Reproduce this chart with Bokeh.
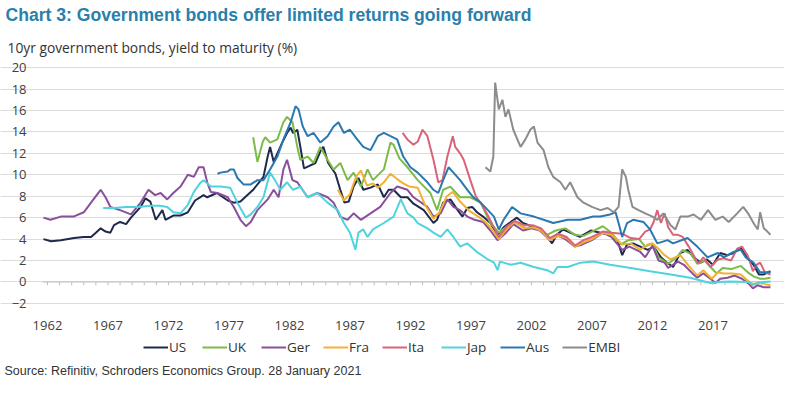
from bokeh.plotting import figure
from bokeh.models import Range1d, FixedTicker, Legend, LegendItem, Label
from bokeh.embed import file_html
from bokeh.resources import INLINE

# ---------------- data (years, yield %) ----------------
us_x = [1961.67, 1962.3, 1963.1, 1964.2, 1965.0, 1965.6, 1966.0, 1966.4, 1966.8, 1967.2, 1967.5, 1968.0,
        1968.5, 1968.9, 1969.7, 1970.1, 1970.5, 1970.95, 1971.5, 1971.75, 1972.4, 1973.0, 1973.6, 1974.2,
        1974.9, 1975.2, 1976.0, 1976.9, 1977.4, 1977.95, 1979.0, 1979.85, 1980.2, 1980.4, 1980.7, 1981.0,
        1981.4, 1981.8, 1982.1, 1982.3, 1982.65, 1982.9, 1983.2, 1983.6, 1984.15, 1984.6, 1984.8, 1985.2,
        1985.8, 1986.2, 1986.55, 1986.9, 1987.3, 1987.7, 1988.1, 1988.7, 1989.3, 1989.8, 1990.2, 1990.6,
        1991.2, 1991.75, 1992.25, 1993.1, 1993.9, 1994.2, 1994.7, 1995.3, 1995.9, 1996.3, 1996.7, 1997.1,
        1997.5, 1998.0, 1998.6, 1999.2, 1999.7, 2000.3, 2000.8, 2001.3, 2002.2, 2002.7, 2003.3, 2003.7,
        2004.1, 2004.6, 2005.2, 2006.0, 2006.9, 2007.7, 2008.5, 2009.1, 2009.5, 2009.9, 2010.4, 2011.0,
        2011.6, 2012.1, 2012.7, 2013.2, 2013.7, 2014.3, 2014.9, 2015.4, 2016.0, 2016.5, 2017.0, 2017.6,
        2018.2, 2018.7, 2019.3, 2019.8, 2020.35, 2020.8, 2021.2, 2021.75]
us_y = [4.0, 3.8, 3.9, 4.1, 4.2, 4.2, 4.6, 5.0, 4.7, 4.6, 5.3, 5.6,
        5.4, 6.0, 7.0, 7.8, 7.5, 5.8, 6.7, 5.8, 6.2, 6.2, 6.5, 7.6,
        8.1, 7.9, 8.3, 7.6, 7.4, 7.5, 8.6, 9.8, 11.7, 12.6, 11.2, 12.0,
        13.0, 13.9, 14.4, 13.9, 14.2, 12.6, 10.6, 10.8, 11.1, 12.3, 12.6, 11.1,
        10.1, 8.6, 7.4, 7.5, 8.9, 9.7, 8.6, 8.8, 9.1, 7.9, 8.6, 8.6,
        7.9, 7.9, 7.3, 6.7, 5.5, 5.8, 7.4, 7.7, 6.7, 6.1, 6.9, 7.0,
        6.5, 6.1, 5.5, 4.4, 5.1, 5.6, 6.0, 5.5, 5.1, 5.0, 4.2, 3.6,
        4.4, 4.9, 4.6, 4.2, 4.8, 4.6, 4.4, 3.9, 2.5, 3.5, 3.6, 3.3,
        3.0, 3.3, 2.3, 1.8, 1.4, 2.7, 3.0, 2.3, 1.8, 2.1, 1.6, 2.7,
        2.5, 2.7, 3.2, 2.3, 1.6, 0.7, 0.7, 1.0]

uk_x = [1979.0, 1979.35, 1979.8, 1980.0, 1980.4, 1981.0, 1981.5, 1981.8, 1982.25, 1982.65, 1982.9, 1983.5,
        1984.0, 1984.55, 1985.15, 1985.65, 1986.2, 1986.8, 1987.3, 1987.9, 1988.45, 1988.9, 1989.8, 1990.35,
        1990.6, 1991.1, 1991.75, 1992.6, 1993.65, 1994.2, 1994.7, 1995.3, 1996.1, 1996.95, 1997.8, 1998.6,
        1999.3, 2000.0, 2000.6, 2001.5, 2002.3, 2003.3, 2004.0, 2004.8, 2005.6, 2006.3, 2007.0, 2007.9,
        2008.6, 2009.4, 2010.0, 2010.9, 2011.4, 2012.0, 2012.5, 2013.3, 2014.0, 2014.5, 2015.2, 2015.7,
        2016.3, 2016.8, 2017.3, 2017.8, 2018.5, 2019.3, 2020.0, 2020.4, 2020.9, 2021.3, 2021.75]
uk_y = [13.5, 11.2, 13.1, 13.5, 13.0, 13.3, 14.9, 15.4, 14.9, 12.6, 11.4, 11.7,
        11.1, 12.6, 11.4, 10.5, 11.1, 9.5, 10.2, 8.9, 10.5, 9.5, 10.5, 13.0,
        12.8, 11.5, 10.7, 9.5, 8.3, 6.7, 8.6, 8.9, 7.9, 7.9, 7.4, 5.5,
        4.6, 5.2, 5.6, 5.0, 5.1, 4.4, 4.8, 5.0, 4.4, 4.3, 4.7, 5.2,
        4.6, 3.5, 3.9, 4.0, 3.3, 3.6, 2.3, 1.7, 2.3, 3.0, 2.6, 1.7,
        2.0, 1.4, 0.8, 1.3, 1.2, 1.5, 0.8, 0.5, 0.3, 0.3, 0.4]

ger_x = [1961.67, 1962.25, 1963.1, 1964.15, 1965.0, 1965.8, 1966.4, 1966.8, 1967.2, 1968.0, 1968.9, 1969.7,
         1970.35, 1970.9, 1971.35, 1971.9, 1972.4, 1973.0, 1973.6, 1974.1, 1974.5, 1974.9, 1975.2, 1975.5,
         1976.05, 1976.9, 1977.4, 1977.95, 1978.4, 1978.8, 1979.35, 1980.2, 1980.7, 1981.1, 1981.5, 1981.8,
         1982.25, 1982.65, 1983.5, 1984.3, 1985.15, 1985.65, 1986.2, 1986.8, 1987.3, 1987.9, 1988.7, 1989.5,
         1990.35, 1990.9, 1991.75, 1992.25, 1993.4, 1993.9, 1994.5, 1995.05, 1995.55, 1996.1, 1996.7, 1997.3,
         1998.0, 1998.6, 1999.2, 1999.9, 2000.5, 2001.3, 2002.0, 2002.7, 2003.5, 2004.2, 2004.8, 2005.6,
         2006.2, 2007.0, 2007.9, 2008.6, 2009.5, 2010.1, 2011.0, 2011.4, 2012.0, 2012.5, 2013.0, 2013.3,
         2014.1, 2014.6, 2015.3, 2015.7, 2016.2, 2016.9, 2017.2, 2017.6, 2018.2, 2018.8, 2019.4, 2020.0,
         2020.3, 2020.7, 2021.2, 2021.75]
ger_y = [6.0, 5.8, 6.1, 6.1, 6.5, 7.7, 8.6, 7.9, 7.0, 6.7, 6.3, 7.4,
         8.6, 8.1, 8.3, 7.7, 8.3, 8.9, 10.0, 9.8, 10.7, 10.7, 9.3, 8.4,
         8.3, 7.9, 7.0, 5.8, 5.2, 5.6, 6.7, 7.7, 8.6, 7.9, 10.5, 11.4,
         9.5, 9.3, 7.9, 8.3, 7.9, 7.4, 6.1, 5.8, 6.4, 5.8, 6.4, 7.0,
         8.3, 8.9, 8.6, 7.9, 7.0, 6.1, 6.4, 7.7, 7.0, 6.7, 6.1, 5.8,
         5.6, 4.8, 3.9, 4.6, 5.4, 4.8, 5.0, 4.8, 3.9, 4.3, 4.0, 3.3,
         3.5, 3.9, 4.6, 4.2, 3.0, 3.3, 2.8, 2.3, 3.4, 2.0, 1.8, 1.3,
         1.9, 1.6, 0.8, 0.4, 0.8, 0.2, -0.1, 0.3, 0.4, 0.6, 0.3, -0.2,
         -0.6, -0.3, -0.5, -0.5]

fra_x = [1986.0, 1986.5, 1987.0, 1987.5, 1987.9, 1988.4, 1988.9, 1989.3, 1989.8, 1990.35, 1990.9, 1991.4,
         1991.9, 1992.6, 1993.2, 1993.9, 1994.4, 1995.0, 1995.5, 1996.1, 1996.9, 1997.6, 1998.2, 1998.8,
         1999.3, 2000.0, 2000.6, 2001.4, 2002.1, 2002.8, 2003.5, 2004.2, 2004.9, 2005.6, 2006.3, 2007.0,
         2007.9, 2008.6, 2009.5, 2010.2, 2011.0, 2011.6, 2012.0, 2012.5, 2012.9, 2013.5, 2014.3, 2015.0,
         2015.7, 2016.2, 2016.9, 2017.4, 2017.9, 2018.6, 2019.3, 2020.0, 2020.3, 2020.8, 2021.3, 2021.75]
fra_y = [8.6, 7.6, 8.2, 9.8, 10.4, 9.0, 9.2, 8.8, 9.3, 10.1, 9.6, 9.2,
         8.9, 8.8, 7.2, 5.9, 6.5, 8.0, 8.4, 7.5, 6.6, 6.1, 5.6, 4.8,
         4.0, 5.0, 5.6, 5.0, 5.1, 4.8, 3.9, 4.3, 4.1, 3.3, 3.7, 4.0,
         4.6, 4.4, 3.5, 3.6, 3.0, 3.5, 3.6, 3.1, 2.6, 2.1, 2.5, 1.5,
         0.6, 1.1, 0.3, 0.9, 0.8, 0.8, 0.7, 0.0, -0.3, 0.0, -0.2, -0.3]

ita_x = [1991.35, 1991.75, 1992.25, 1992.6, 1993.0, 1993.4, 1993.9, 1994.3, 1994.65, 1995.05, 1995.5, 1995.7,
         1996.1, 1996.4, 1996.95, 1997.4, 1997.9, 1998.4, 1998.8, 1999.3, 2000.0, 2000.6, 2001.4, 2002.1,
         2002.8, 2003.5, 2004.2, 2004.9, 2005.6, 2006.3, 2007.0, 2007.9, 2008.6, 2009.5, 2010.2, 2010.9,
         2011.4, 2011.8, 2012.1, 2012.4, 2012.7, 2013.0, 2013.3, 2013.7, 2014.1, 2014.5, 2015.0, 2015.4,
         2015.8, 2016.2, 2016.8, 2017.4, 2017.9, 2018.5, 2019.0, 2019.4, 2019.9, 2020.3, 2020.6, 2020.9,
         2021.3, 2021.75]
ita_y = [13.9, 13.3, 12.8, 13.1, 14.2, 13.6, 11.4, 9.3, 9.5, 11.7, 13.6, 12.6,
         12.0, 11.4, 9.5, 8.0, 7.2, 6.2, 5.3, 4.2, 5.2, 5.7, 5.3, 5.3,
         5.0, 4.1, 4.5, 4.2, 3.4, 3.9, 4.2, 4.7, 4.6, 4.5, 4.1, 4.0,
         4.7, 4.9, 5.6, 6.7, 5.5, 6.4, 5.1, 4.4, 4.4, 4.2, 3.3, 2.5,
         1.7, 2.3, 1.4, 2.1, 2.2, 2.0, 3.1, 3.3, 2.4, 1.0, 1.6, 1.8,
         0.9, 0.7]

jap_x = [1966.6, 1967.5, 1968.5, 1969.5, 1970.5, 1971.3, 1971.9, 1972.4, 1973.0, 1973.6, 1974.1, 1974.6,
         1974.9, 1975.5, 1976.3, 1977.1, 1977.7, 1978.4, 1978.8, 1979.35, 1979.85, 1980.4, 1980.8, 1981.25,
         1981.8, 1982.3, 1982.9, 1983.5, 1984.3, 1985.15, 1986.0, 1986.5, 1987.0, 1987.45, 1987.7, 1988.1,
         1988.45, 1988.9, 1989.8, 1990.6, 1991.2, 1991.75, 1992.25, 1992.6, 1993.4, 1993.9, 1994.5, 1995.05,
         1995.55, 1996.1, 1996.7, 1997.5, 1998.4, 1998.9, 1999.2, 1999.4, 2000.3, 2001.1, 2002.2, 2003.3,
         2003.8, 2004.15, 2005.0, 2006.05, 2007.1, 2008.5, 2010.2, 2011.8, 2013.5, 2015.1, 2016.8, 2017.4,
         2018.45, 2019.85, 2020.35, 2021.2, 2021.75]
jap_y = [6.9, 6.9, 7.0, 7.0, 7.1, 7.1, 7.0, 6.5, 6.4, 7.2, 8.4, 9.2,
         9.5, 8.9, 8.9, 8.8, 7.4, 6.0, 6.3, 7.0, 7.9, 10.2, 9.5, 8.6,
         9.3, 8.6, 8.9, 7.9, 8.3, 7.4, 6.7, 5.5, 4.6, 3.0, 4.6, 4.9,
         4.2, 4.9, 5.5, 6.1, 7.7, 6.4, 6.0, 5.5, 5.0, 4.6, 4.2, 4.9,
         4.2, 3.3, 3.6, 2.8, 2.1, 1.8, 1.1, 1.9, 1.6, 1.8, 1.4, 1.1,
         0.8, 1.4, 1.4, 1.8, 1.9, 1.6, 1.3, 1.0, 0.7, 0.4, -0.1, 0.0,
         0.05, 0.0, -0.2, 0.0, 0.05]

aus_x = [1976.05, 1976.3, 1976.9, 1977.1, 1977.4, 1977.7, 1978.2, 1978.8, 1979.35, 1979.85, 1980.4, 1981.0,
         1981.5, 1982.1, 1982.5, 1982.75, 1983.1, 1983.5, 1984.0, 1984.55, 1985.15, 1985.65, 1986.05, 1986.5,
         1987.0, 1987.6, 1988.1, 1988.7, 1989.3, 1989.8, 1990.35, 1990.9, 1991.4, 1992.0, 1992.6, 1993.4,
         1993.9, 1994.3, 1994.7, 1995.15, 1995.55, 1996.1, 1996.7, 1997.2, 1997.8, 1998.4, 1998.9, 1999.3,
         1999.7, 2000.4, 2001.1, 2002.2, 2003.0, 2003.8, 2005.0, 2006.05, 2007.1, 2007.7, 2008.5, 2008.95,
         2009.2, 2009.5, 2009.9, 2010.4, 2011.25, 2011.8, 2012.4, 2013.25, 2013.7, 2014.9, 2015.7, 2016.55,
         2017.4, 2017.9, 2018.7, 2019.3, 2019.7, 2020.35, 2020.9, 2021.75]
aus_y = [10.1, 10.2, 10.3, 10.5, 10.5, 9.7, 9.1, 9.1, 9.5, 9.5, 10.5, 11.7,
         13.3, 14.9, 16.4, 16.1, 14.5, 13.6, 13.9, 13.0, 13.6, 14.5, 14.9, 13.9,
         14.2, 13.3, 12.6, 12.3, 13.6, 13.9, 13.6, 13.3, 11.7, 10.7, 10.2, 9.3,
         8.6, 8.3, 9.5, 10.7, 10.2, 9.5, 8.6, 7.9, 7.4, 6.7, 6.1, 4.9,
         5.8, 7.0, 6.4, 6.1, 5.8, 5.5, 5.8, 5.8, 6.1, 6.1, 6.3, 6.5,
         5.5, 4.2, 5.5, 5.8, 5.6, 4.9, 3.6, 3.9, 3.6, 4.1, 3.3, 2.3,
         2.7, 2.3, 2.8, 3.0, 2.3, 1.8, 0.9, 0.9]

embi_x = [1998.2, 1998.6, 1998.85, 1999.0, 1999.3, 1999.6, 1999.85, 2000.1, 2000.5, 2001.1, 2001.5, 2001.9,
          2002.2, 2002.5, 2003.0, 2003.4, 2003.8, 2004.4, 2004.8, 2005.2, 2005.8, 2006.3, 2007.0, 2007.7,
          2008.3, 2008.8, 2009.2, 2009.5, 2009.8, 2010.0, 2010.35, 2010.85, 2011.4, 2012.0, 2012.4, 2012.9,
          2013.5, 2013.9, 2014.3, 2014.9, 2015.4, 2016.0, 2016.6, 2017.2, 2017.8, 2018.3, 2019.0, 2019.5,
          2019.9, 2020.35, 2020.7, 2020.9, 2021.2, 2021.5, 2021.75]
embi_y = [10.7, 10.3, 11.7, 18.6, 16.1, 17.0, 15.4, 16.1, 14.2, 12.6, 13.3, 14.2,
          14.5, 13.0, 12.3, 10.7, 9.8, 9.3, 8.6, 9.3, 7.9, 7.4, 7.0, 6.7,
          6.9, 6.5, 7.0, 10.5, 9.8, 8.6, 7.0, 6.7, 6.4, 6.1, 5.8, 6.4,
          5.3, 4.9, 6.1, 6.1, 6.3, 5.8, 6.7, 5.8, 6.1, 5.6, 6.4, 7.0,
          6.4, 5.5, 4.9, 6.5, 5.0, 4.7, 4.4]

series_names = ["US", "UK", "Ger", "Fra", "Ita", "Jap", "Aus", "EMBI"]
series_colors = ["#1d2a4d", "#7cbb48", "#8a4f9c", "#f2b134", "#d9637a", "#4fd3dc", "#2a78b0", "#8c8c8c"]
y_ticks = [-2, 0, 2, 4, 6, 8, 10, 12, 14, 16, 18, 20]
x_ticks = [1962, 1967, 1972, 1977, 1982, 1987, 1992, 1997, 2002, 2007, 2012, 2017]
minor_years = list(range(1962, 2022))

# ---------------- layout constants (pixels -> data) ----------------
W, H = 784, 378
PX_YEAR = 12.1          # pixels per year
PX_UNIT = 10.72         # pixels per percentage point
X0 = 1961.59            # left edge of the plotting area (page x = 42)
X1 = 2021.75            # right edge of the plotting area (page x = 770)
Y_TOP = 20.1            # top of the plotting area (page y = 66)
x_start = X0 - 42 / PX_YEAR
y_top = Y_TOP + 66 / PX_UNIT


def ypix(py):
    return y_top - py / PX_UNIT


def xpix(px):
    return x_start + px / PX_YEAR


p = figure(width=W, height=H, x_range=Range1d(x_start, x_start + W / PX_YEAR),
           y_range=Range1d(y_top - H / PX_UNIT, y_top),
           output_backend="svg", toolbar_location=None, title=None,
           min_border_left=0, min_border_right=0, min_border_top=0, min_border_bottom=0)
p.outline_line_color = None
p.background_fill_color = "white"
p.border_fill_color = "white"

p.xgrid.visible = False
p.ygrid.ticker = FixedTicker(ticks=y_ticks)
p.ygrid.bounds = (X0, X1)
p.ygrid.grid_line_color = "#dcdcdc"
p.ygrid.grid_line_width = 1

ax = p.yaxis[0]
ax.fixed_location = X0
ax.ticker = FixedTicker(ticks=y_ticks)
ax.axis_line_color = None
ax.major_tick_line_color = None
ax.minor_tick_line_color = None
ax.major_label_standoff = 10
ax.major_label_text_font = "Open Sans"
ax.major_label_text_font_size = "13px"
ax.major_label_text_color = "#404040"

bx = p.xaxis[0]
bx.fixed_location = -2.1
bx.ticker = FixedTicker(ticks=x_ticks)
bx.axis_line_color = None
bx.major_tick_line_color = None
bx.minor_tick_line_color = None
bx.major_tick_out = 0
bx.major_label_standoff = 17
bx.major_label_text_font = "Open Sans"
bx.major_label_text_font_size = "13px"
bx.major_label_text_color = "#404040"

# zero line with small yearly ticks
p.segment(x0=[X0], y0=[0], x1=[X1], y1=[0], line_color="#bfbfbf", line_width=1)
p.segment(x0=minor_years, y0=[0] * len(minor_years), x1=minor_years, y1=[-0.3] * len(minor_years),
          line_color="#bfbfbf", line_width=1)

xs = [us_x, uk_x, ger_x, fra_x, ita_x, jap_x, aus_x, embi_x]
ys = [us_y, uk_y, ger_y, fra_y, ita_y, jap_y, aus_y, embi_y]
items = []
for name, color, x, y in zip(series_names, series_colors, xs, ys):
    r = p.line(x, y, line_color=color, line_width=2)
    items.append(LegendItem(label=name, renderers=[r]))

legend = Legend(items=items, orientation="horizontal", location=(143, 22),
                label_text_font="Open Sans", label_text_font_size="13.5px", label_text_color="#333333",
                glyph_width=25, glyph_height=16, label_height=16, label_standoff=1, spacing=13,
                padding=0, margin=0, border_line_color=None, background_fill_alpha=0)
p.add_layout(legend, "center")

title = Label(x=xpix(5), y=ypix(14), text_baseline="middle", text_align="left",
              text="Chart 3: Government bonds offer limited returns going forward",
              text_font="Liberation Sans", text_font_style="bold", text_font_size="17.6px",
              text_color="#2a7fab")
subtitle = Label(x=xpix(7), y=ypix(47), text_baseline="middle", text_align="left",
                 text="10yr government bonds, yield to maturity (%)",
                 text_font="Open Sans", text_font_size="13.8px", text_color="#333333")
source = Label(x=xpix(4), y=ypix(370), text_baseline="middle", text_align="left",
               text="Source: Refinitiv, Schroders Economics Group. 28 January 2021",
               text_font="Liberation Sans", text_font_size="12.5px", text_color="#333333")
for lab in (title, subtitle, source):
    p.add_layout(lab)

with open("out.html", "w") as f:
    f.write(file_html(p, INLINE))
